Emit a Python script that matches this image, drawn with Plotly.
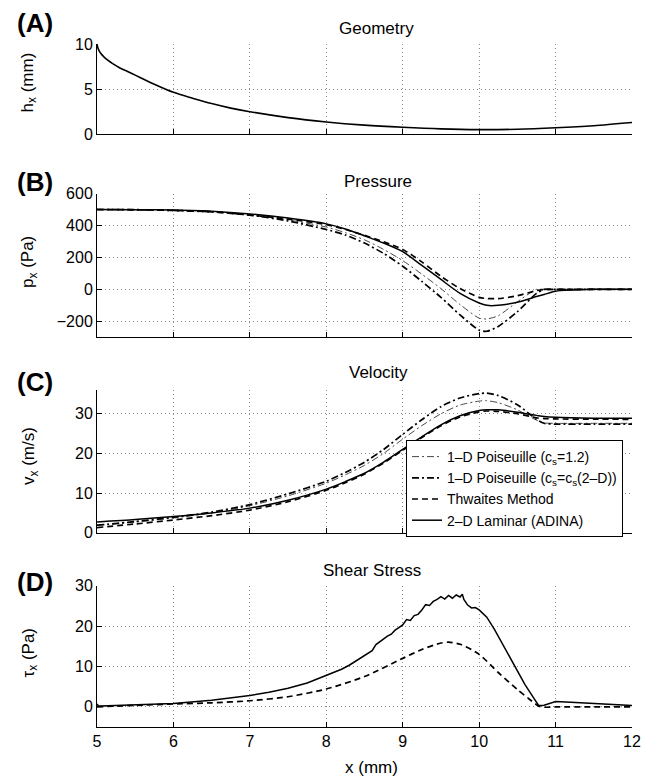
import plotly.graph_objects as go

# ---------------- data ----------------
x_geom = [5.0, 5.01, 5.03, 5.06, 5.1, 5.15, 5.2, 5.3, 5.4, 5.5, 5.75, 6.0, 6.25, 6.5,
          6.75, 7.0, 7.5, 8.0, 8.5, 9.0, 9.5, 10.0, 10.5, 11.0, 11.5, 12.0]
h_geom = [10.0, 9.6, 9.2, 8.85, 8.5, 8.15, 7.85, 7.35, 6.95, 6.55, 5.55, 4.65, 4.0, 3.4,
          2.9, 2.5, 1.85, 1.37, 1.02, 0.78, 0.6, 0.52, 0.56, 0.72, 0.95, 1.3]

x_pv = [5, 5.5, 6, 6.5, 7, 7.5, 8, 8.25, 8.5, 8.75, 9, 9.25, 9.5, 9.75, 10, 10.1,
        10.25, 10.5, 10.75, 10.85, 11, 11.5, 12]
p_laminar = [500, 499, 496, 489, 472, 446, 410, 378, 335, 290, 236, 150, 62, -25, -85,
             -100, -100, -80, -45, -32, -12, 0, 0]
p_thwaites = [500, 498, 494, 485, 465, 440, 405, 375, 338, 298, 250, 172, 82, 5, -50,
              -57, -58, -40, -8, -2, 0, 0, 0]
p_pois12 = [500, 499, 495, 487, 468, 435, 390, 355, 310, 250, 180, 95, 5, -95, -180,
            -185, -165, -78, 0, 0, 0, 0, 0]
p_pois2d = [500, 499, 494, 485, 465, 428, 375, 340, 290, 225, 145, 50, -50, -160, -255,
            -262, -232, -140, -25, 0, 0, 0, 0]

v_laminar = [2.7, 3.3, 4.1, 5.0, 6.2, 8.2, 11.0, 12.9, 15.0, 17.8, 21.0, 24.2, 27.2,
             29.5, 30.8, 31.0, 31.0, 30.4, 29.6, 29.3, 29.1, 28.9, 28.9]
v_thwaites = [1.3, 2.2, 3.2, 4.3, 5.7, 7.8, 10.7, 12.6, 14.8, 17.6, 20.8, 24.0, 27.0,
              29.2, 30.5, 30.7, 30.6, 30.0, 29.0, 28.8, 28.7, 28.65, 28.6]
v_pois12 = [1.8, 2.7, 3.7, 5.0, 6.8, 9.3, 12.5, 14.6, 17.0, 20.0, 23.6, 27.0, 30.0,
            32.2, 33.2, 33.3, 32.8, 31.0, 28.4, 27.7, 27.6, 27.6, 27.6]
v_pois2d = [1.9, 2.8, 3.9, 5.2, 7.1, 9.8, 13.0, 15.2, 17.8, 21.0, 24.8, 28.5, 31.8,
            34.0, 35.1, 35.2, 34.6, 32.3, 28.6, 27.6, 27.4, 27.4, 27.4]

x_tau_lam = [5.0, 5.02, 5.05, 5.5, 6.0, 6.5, 7.0, 7.25, 7.5, 7.75, 8.0, 8.1, 8.2, 8.3,
             8.4, 8.5, 8.55, 8.6, 8.65, 8.7, 8.75, 8.8, 8.85, 8.9, 8.95, 9.0, 9.05, 9.1,
             9.15, 9.2, 9.25, 9.3, 9.35, 9.4, 9.45, 9.5, 9.55, 9.6, 9.65, 9.7, 9.75,
             9.78, 9.8, 9.85, 9.9, 9.95, 10.0, 10.1, 10.2, 10.3, 10.4, 10.5, 10.6, 10.7,
             10.78, 10.85, 10.95, 11.0, 11.2, 11.5, 12.0]
tau_laminar = [0.7, 0.2, 0.2, 0.45, 0.8, 1.6, 2.8, 3.6, 4.6, 5.9, 7.7, 8.5, 9.3, 10.3,
               11.5, 12.6, 13.1, 13.9, 15.4, 16.1, 17.0, 17.5, 18.0, 19.0, 19.6, 20.3,
               21.6, 21.4, 22.6, 22.9, 24.0, 25.3, 25.1, 26.1, 26.6, 27.3, 26.7, 27.6,
               26.9, 27.7, 27.2, 27.9, 26.6, 25.2, 24.5, 24.6, 24.0, 22.2, 19.2, 15.8,
               12.2, 8.8, 5.5, 2.6, 0.3, 0.4, 1.0, 1.3, 1.1, 0.8, 0.3]
x_tau_thw = [5, 5.5, 6, 6.5, 7, 7.5, 8, 8.5, 9, 9.25, 9.5, 9.6, 9.75, 10, 10.25, 10.5,
             10.65, 10.8, 11, 11.5, 12]
tau_thwaites = [0.0, 0.35, 0.7, 1.0, 1.5, 2.5, 4.4, 7.5, 12.0, 14.2, 15.8, 16.0, 15.5,
                13.0, 8.5, 4.3, 2.0, 0.0, 0.0, 0.0, 0.0]

x_ticks = [5, 6, 7, 8, 9, 10, 11, 12]
series_names = ["1\u2013D Poiseuille (c<sub>s</sub>=1.2)",
                "1\u2013D Poiseuille (c<sub>s</sub>=c<sub>s</sub>(2\u2013D))",
                "Thwaites Method",
                "2\u2013D Laminar (ADINA)"]

# ---------------- layout helpers ----------------
W, H = 654, 781
ML, MR, MT, MB = 97, 22, 44, 54
PW, PH = W - ML - MR, H - MT - MB

def fx(px):
    return (px - ML) / PW

def fy(py):
    return (H - MB - py) / PH

FONT = "Liberation Sans, Arial, Helvetica, sans-serif"
BLACK = "#000000"

styles = [
    dict(color="#333333", width=0.9, dash="7px,3px,2px,3px"),
    dict(color=BLACK, width=1.7, dash="7px,3px,2px,3px"),
    dict(color=BLACK, width=1.7, dash="6px,4px"),
    dict(color=BLACK, width=1.5, dash="solid"),
]

fig = go.Figure()

# Panel A
fig.add_trace(go.Scatter(x=x_geom, y=h_geom, mode="lines", line=dict(color=BLACK, width=1.6, shape="spline", smoothing=0.8),
                         showlegend=False, xaxis="x", yaxis="y"))
# Panel B
for name, ys, st in zip(series_names, [p_pois12, p_pois2d, p_thwaites, p_laminar], styles):
    fig.add_trace(go.Scatter(x=x_pv, y=ys, mode="lines", name=name, showlegend=False,
                             line=dict(shape="spline", smoothing=0.7, **st), xaxis="x2", yaxis="y2"))
# Panel C (legend here)
for name, ys, st in zip(series_names, [v_pois12, v_pois2d, v_thwaites, v_laminar], styles):
    fig.add_trace(go.Scatter(x=x_pv, y=ys, mode="lines", name=name, showlegend=True,
                             line=dict(shape="spline", smoothing=0.7, **st), xaxis="x3", yaxis="y3"))
# Panel D
fig.add_trace(go.Scatter(x=x_tau_thw, y=tau_thwaites, mode="lines", showlegend=False,
                         line=dict(shape="spline", smoothing=0.7, **styles[2]), xaxis="x4", yaxis="y4"))
fig.add_trace(go.Scatter(x=x_tau_lam, y=tau_laminar, mode="lines", showlegend=False,
                         line=dict(color=BLACK, width=1.5), xaxis="x4", yaxis="y4"))

domains = [
    [fy(134.3), fy(44)],
    [fy(337.3), fy(193.5)],
    [fy(532.7), fy(390)],
    [0.0, fy(585.7)],
]
yranges = [[0, 10], [-300, 600], [0, 36], [-5, 30]]
ytickvals = [[0, 5, 10], [-200, 0, 200, 400, 600], [0, 10, 20, 30], [0, 10, 20, 30]]

common_ax = dict(showgrid=True, gridcolor="#8c8c8c", griddash="1px,3px", gridwidth=1,
                 showline=True, linecolor=BLACK, linewidth=1, ticks="inside", ticklen=5,
                 tickcolor=BLACK, zeroline=False, mirror=False,
                 tickfont=dict(family=FONT, size=16, color=BLACK))

layout = dict(width=W, height=H, margin=dict(l=ML, r=MR, t=MT, b=MB),
              paper_bgcolor="white", plot_bgcolor="white",
              font=dict(family=FONT, size=16, color=BLACK))
for i in range(4):
    sx = "" if i == 0 else str(i + 1)
    layout["xaxis" + sx] = dict(common_ax, domain=[0, 1], range=[5, 12], tickvals=x_ticks,
                                showticklabels=(i == 3), anchor="y" + sx)
    layout["yaxis" + sx] = dict(common_ax, domain=domains[i], range=yranges[i],
                                tickvals=ytickvals[i], anchor="x" + sx)

layout["legend"] = dict(x=fx(406), y=fy(440), xanchor="left", yanchor="top",
                        bgcolor="white", bordercolor=BLACK, borderwidth=1,
                        font=dict(family=FONT, size=14, color=BLACK), tracegroupgap=0,
                        itemwidth=30)

ann = []
titles = [("Geometry", 376, 28), ("Pressure", 378, 182), ("Velocity", 378, 372), ("Shear Stress", 372, 570)]
for t, px, py in titles:
    ann.append(dict(text=t, x=fx(px), y=fy(py), xref="paper", yref="paper", showarrow=False,
                    xanchor="center", yanchor="middle", font=dict(family=FONT, size=17)))
labels = [("(A)", 23), ("(B)", 182), ("(C)", 382), ("(D)", 582)]
for t, py in labels:
    ann.append(dict(text="<b>%s</b>" % t, x=fx(35), y=fy(py), xref="paper", yref="paper",
                    showarrow=False, xanchor="center", yanchor="middle",
                    font=dict(family=FONT, size=26)))
ytitles = [("h<sub>x</sub> (mm)", 28, 82.5), ("p<sub>x</sub> (Pa)", 29, 262),
           ("v<sub>x</sub> (m/s)", 30, 456), ("\u03c4<sub>x</sub> (Pa)", 29, 652.5)]
for t, px, py in ytitles:
    ann.append(dict(text=t, x=fx(px), y=fy(py), xref="paper", yref="paper", showarrow=False,
                    xanchor="center", yanchor="middle", textangle=-90,
                    font=dict(family=FONT, size=17)))
ann.append(dict(text="x (mm)", x=fx(371), y=fy(767), xref="paper", yref="paper",
                showarrow=False, xanchor="center", yanchor="middle", font=dict(family=FONT, size=17)))
layout["annotations"] = ann

fig.update_layout(layout)
fig.write_html("out.html", config={"displayModeBar": False},
               post_script="document.body.style.margin='0px';document.body.style.padding='0px';")
